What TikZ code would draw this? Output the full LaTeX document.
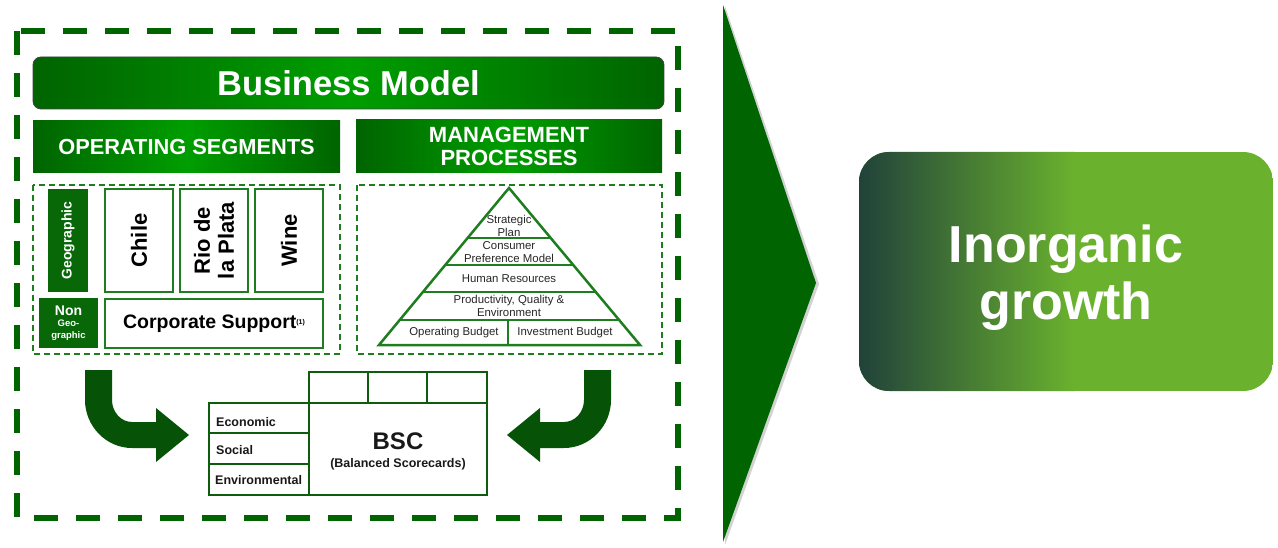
\documentclass[tikz,border=0pt]{standalone}
\usepackage{fontspec}
\setmainfont{Liberation Sans}
\usepackage{tikz}
\definecolor{bmdark}{RGB}{0,100,0}
\definecolor{bmlight}{RGB}{0,158,0}
\definecolor{boxgreen}{RGB}{30,125,30}
\definecolor{geogreen}{RGB}{8,104,8}
\definecolor{tblgreen}{RGB}{14,92,14}
\definecolor{arrowgreen}{RGB}{6,82,6}
\definecolor{gdark}{RGB}{33,66,58}
\definecolor{glime}{RGB}{106,178,46}

\begin{document}
\begin{tikzpicture}[line cap=butt,line join=miter,x=1pt,y=-1pt,
  bar/.style={left color=bmdark,right color=bmdark,middle color=bmlight,text=white,inner sep=0pt},
  seg/.style={draw=boxgreen,line width=2.5pt,fill=white,inner sep=0pt,font=\fontsize{22}{24}\selectfont\bfseries},
  geo/.style={fill=geogreen,text=white,inner sep=0pt},
  pyr/.style={boxgreen,line width=2.5pt},
  plab/.style={font=\fontsize{11.4}{13}\selectfont,text=black!85,align=center,inner sep=0pt},
  tbl/.style={tblgreen,line width=2.5pt},
  tlab/.style={font=\fontsize{12.5}{14}\selectfont\bfseries,text=black!90,inner sep=0pt},
  outerframe/.style={bmdark,line width=5.5pt,dash pattern=on 24pt off 18pt},
  innerframe/.style={boxgreen,line width=1.5pt,dash pattern=on 6pt off 4pt}]
\useasboundingbox (0,0) rectangle (1278,548);

% frames
\draw[outerframe] (17,31) rectangle (678,518);
\draw[innerframe] (33,185) rectangle (340,354);
\draw[innerframe] (357,185) rectangle (662,354);

% headers
\node[bar,draw=black!75,line width=0.8pt,rounded corners=8pt,minimum width=631pt,minimum height=52pt,
  font=\fontsize{34.5}{36}\selectfont\bfseries] (model) at (348.5,83) {Business Model};
\node[bar,minimum width=307pt,minimum height=52pt,
  font=\fontsize{21.8}{23}\selectfont\bfseries] (opseg) at (186.5,147) {OPERATING SEGMENTS};
\node[bar,minimum width=306pt,minimum height=53pt,align=center,
  font=\fontsize{22}{23}\selectfont\bfseries] (mgmt) at (509,146.5) {MANAGEMENT\\PROCESSES};

% operating segments
\node[geo,rotate=90,minimum width=103pt,minimum height=40pt,
  font=\fontsize{14}{16}\selectfont\bfseries] (geo) at (68,240.5) {Geographic};
\node[seg,rotate=90,minimum width=103pt,minimum height=68pt] (chile) at (139,240.5) {Chile};
\node[seg,rotate=90,minimum width=103pt,minimum height=68pt,align=center] (plata) at (214,240.5) {Rio de\\la Plata};
\node[seg,rotate=90,minimum width=103pt,minimum height=68pt] (wine) at (289,240.5) {Wine};
\node[geo,minimum width=59pt,minimum height=50pt,align=center] (nongeo) at (68.5,323)
  {\fontsize{14}{15}\selectfont\bfseries Non\\[-1pt]\fontsize{9.5}{11}\selectfont\bfseries Geo-\\\fontsize{9.5}{11}\selectfont\bfseries graphic};
\node[seg,minimum width=218pt,minimum height=49pt,font=\fontsize{19.5}{21}\selectfont\bfseries] (corp) at (214,323.5)
  {Corporate Support\raisebox{4pt}{\fontsize{7}{8}\selectfont(1)}};

% management processes pyramid
\draw[pyr] (509,188) -- (640,345) -- (379,345) -- cycle;
\draw[pyr] (467.4,238) -- (550.6,238);
\draw[pyr] (445,265) -- (573,265);
\draw[pyr] (422.6,292) -- (595.4,292);
\draw[pyr] (399.3,320) -- (618.7,320);
\draw[pyr] (508,320) -- (508,345);
\node[plab] (plan) at (509,225.5) {Strategic\\Plan};
\node[plab] (consumer) at (509,252) {Consumer\\Preference Model};
\node[plab] (human) at (509,278.5) {Human Resources};
\node[plab] (quality) at (509,306) {Productivity, Quality \&\\Environment};
\node[plab] (opbudget) at (454,333) {Operating Budget};
\node[plab] (invbudget) at (565,333) {Investment Budget};

% block arrows
\fill[arrowgreen] (85,370) -- (112,370) -- (112,400) .. controls (112,412) and (121,422) .. (132,422)
  -- (156,422) -- (156,408) -- (189,435) -- (156,462) -- (156,448) -- (132,448)
  .. controls (106,448) and (85,426) .. (85,400) -- cycle;
\fill[arrowgreen] (611,370) -- (584,370) -- (584,400) .. controls (584,412) and (575,422) .. (564,422)
  -- (540,422) -- (540,408) -- (507,435) -- (540,462) -- (540,448) -- (564,448)
  .. controls (590,448) and (611,426) .. (611,400) -- cycle;

% balanced scorecard
\draw[tbl] (309,372) rectangle (487,403);
\draw[tbl] (368,372) -- (368,403);
\draw[tbl] (427,372) -- (427,403);
\draw[tbl] (209,403) rectangle (487,495);
\draw[tbl] (309,403) -- (309,495);
\draw[tbl] (209,433) -- (309,433);
\draw[tbl] (209,464) -- (309,464);
\node[tlab,anchor=west] (eco) at (216,422) {Economic};
\node[tlab,anchor=west] (soc) at (216,450) {Social};
\node[tlab,anchor=west] (env) at (215,480.5) {Environmental};
\node[tlab,font=\fontsize{24}{26}\selectfont\bfseries] (bsc) at (398,441) {BSC};
\node[tlab] (scorecards) at (398,464) {(Balanced Scorecards)};

% chevron
\fill[gray!35] (725,6) -- (819,284) -- (725,545) -- cycle;
\fill[bmdark] (723,5) -- (816,283) -- (723,542) -- cycle;

% result
\begin{scope}
\clip[rounded corners=30pt] (859,152) rectangle (1273,391);
\fill[glime] (859,152) rectangle (1273,391);
\shade[left color=gdark,right color=glime] (859,152) rectangle (1075,391);
\end{scope}
\node[text=white,align=center,inner sep=0pt,font=\fontsize{52}{57}\selectfont\bfseries] (growth) at (1066,278) {Inorganic\\growth};
\end{tikzpicture}
\end{document}
